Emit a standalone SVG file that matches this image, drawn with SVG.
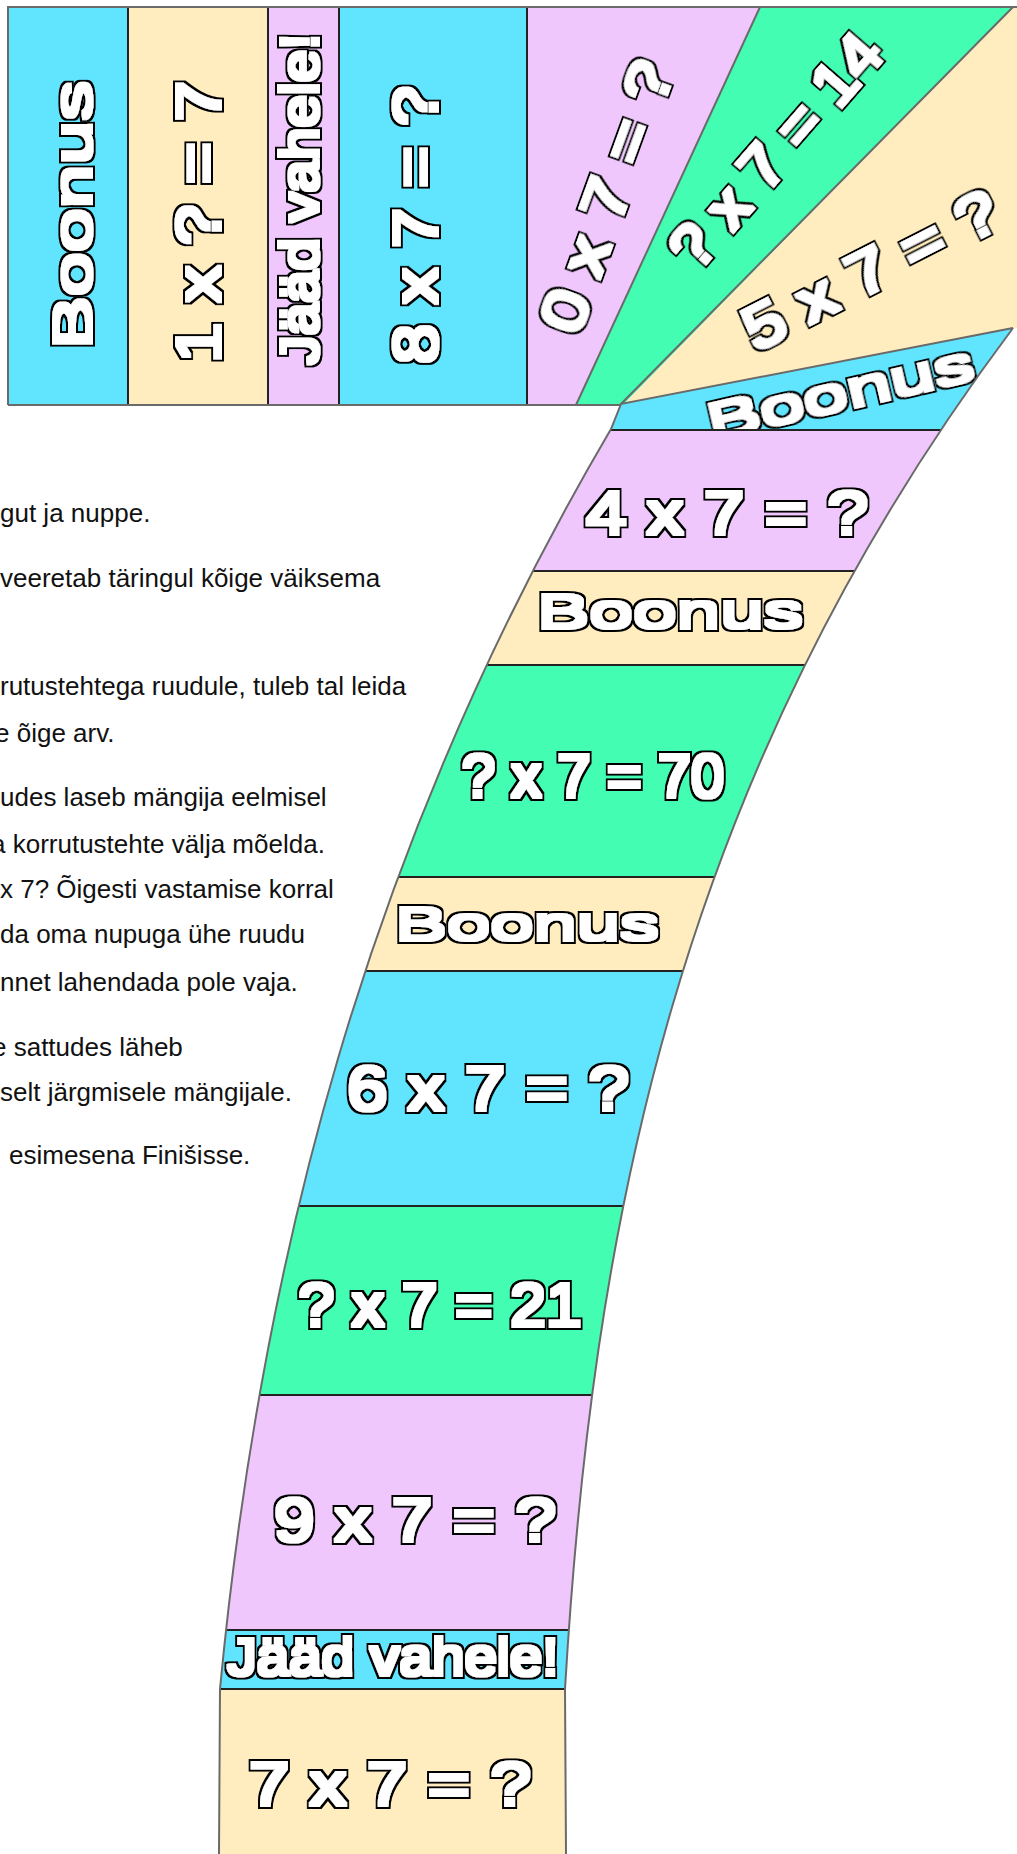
<svg xmlns="http://www.w3.org/2000/svg" width="1017" height="1854" viewBox="0 0 1017 1854">
<style>
.b{fill:#61E5FF}.c{fill:#FFEDBF}.p{fill:#EFC7FC}.g{fill:#42FDB2}
.dv{stroke:#222;stroke-width:2;fill:none}
.ed{stroke:#6a6a6a;stroke-width:2;fill:none}
text.lf{font-family:"Liberation Sans",Arial,sans-serif;fill:#fff;text-anchor:middle;filter:url(#fat)}
text.tx{font-family:"Liberation Sans",Arial,sans-serif;font-size:26px;fill:#111}
</style>
<defs>
<clipPath id="stem"><path d="M621,404 L1013,328 C673,782 592,1235 565,1689 L566,1854 L219,1854 L220,1689 C260,1269 364,849 611,429 Z"/></clipPath>
<filter id="fat" x="-20%" y="-40%" width="140%" height="180%">
<feMorphology in="SourceAlpha" operator="dilate" radius="3.5" result="o"/>
<feMorphology in="SourceGraphic" operator="dilate" radius="1.9" result="i"/>
<feMerge><feMergeNode in="o"/><feMergeNode in="i"/></feMerge>
</filter>
</defs>
<rect width="1017" height="1854" fill="#fff"/>

<g id="rules">
<text class="tx" x="0" y="522">gut ja nuppe.</text>
<text class="tx" x="0" y="587">veeretab täringul kõige väiksema</text>
<text class="tx" x="0" y="695">rutustehtega ruudule, tuleb tal leida</text>
<text class="tx" x="-5" y="742">e õige arv.</text>
<text class="tx" x="0" y="806">udes laseb mängija eelmisel</text>
<text class="tx" x="-9" y="853">a korrutustehte välja mõelda.</text>
<text class="tx" x="0" y="898">x 7? Õigesti vastamise korral</text>
<text class="tx" x="0" y="943">da oma nupuga ühe ruudu</text>
<text class="tx" x="0" y="991">nnet lahendada pole vaja.</text>
<text class="tx" x="-8" y="1056">e sattudes läheb</text>
<text class="tx" x="0" y="1101">selt järgmisele mängijale.</text>
<text class="tx" x="9" y="1164">esimesena Finišisse.</text>
</g>

<g id="top-boonus"><rect class="b" x="8" y="7" width="120" height="398"/>
<text class="lf" font-size="53" textLength="268" lengthAdjust="spacingAndGlyphs" transform="translate(91,215) rotate(-90)">Boonus</text></g>
<g id="top-1x"><rect class="c" x="128" y="7" width="140" height="398"/>
<text class="lf" font-size="63" textLength="282" lengthAdjust="spacingAndGlyphs" transform="translate(220,222) rotate(-90)">1 x ? = 7</text></g>
<g id="top-jaad"><rect class="p" x="268" y="7" width="71" height="398"/>
<text class="lf" font-size="53" textLength="331" lengthAdjust="spacingAndGlyphs" transform="translate(318,199) rotate(-90)">Jääd vahele!</text></g>
<g id="top-8x"><rect class="b" x="339" y="7" width="188" height="398"/>
<text class="lf" font-size="63" textLength="278" lengthAdjust="spacingAndGlyphs" transform="translate(437,225) rotate(-90)">8 x 7 = ?</text></g>
<g id="top-0x"><polygon class="p" points="527,7 760,7 576,405 527,405"/>
<text class="lf" font-size="62" textLength="284" lengthAdjust="spacingAndGlyphs" transform="translate(606,196) rotate(-70)" y="22">0 x 7 = ?</text></g>
<g id="top-14"><polygon class="g" points="760,7 1013,7 623,405 576,405"/>
<text class="lf" font-size="62" textLength="289" lengthAdjust="spacingAndGlyphs" transform="translate(775,150) rotate(-49)" y="22">? x 7 = 14</text></g>
<g id="top-5x"><polygon class="c" points="1013,7 1017,7 1017,328 623,405"/>
<text class="lf" font-size="62" textLength="279" lengthAdjust="spacingAndGlyphs" transform="translate(870,269) rotate(-27)" y="22">5 x 7 = ?</text></g>

<g clip-path="url(#stem)">
<g id="s-boonus1"><rect class="b" x="150" y="300" width="867" height="130"/>
<text class="lf" font-size="50" textLength="272" lengthAdjust="spacingAndGlyphs" transform="translate(840,392) rotate(-13)" y="18">Boonus</text></g>
<g id="s-4x"><rect class="p" x="150" y="430" width="867" height="141"/>
<text class="lf" font-size="62" textLength="282" lengthAdjust="spacingAndGlyphs" x="727" y="534">4 x 7 = ?</text></g>
<g id="s-boonus2"><rect class="c" x="150" y="571" width="867" height="94"/>
<text class="lf" font-size="48" textLength="266" lengthAdjust="spacingAndGlyphs" x="670" y="628">Boonus</text></g>
<g id="s-70"><rect class="g" x="150" y="665" width="867" height="212"/>
<text class="lf" font-size="61" textLength="262" lengthAdjust="spacingAndGlyphs" x="593" y="797">? x 7 = 70</text></g>
<g id="s-boonus3"><rect class="c" x="150" y="877" width="867" height="94"/>
<text class="lf" font-size="47" textLength="264" lengthAdjust="spacingAndGlyphs" x="527" y="940">Boonus</text></g>
<g id="s-6x"><rect class="b" x="150" y="971" width="867" height="235"/>
<text class="lf" font-size="63" textLength="282" lengthAdjust="spacingAndGlyphs" x="488" y="1110">6 x 7 = ?</text></g>
<g id="s-21"><rect class="g" x="150" y="1206" width="867" height="189"/>
<text class="lf" font-size="62" textLength="283" lengthAdjust="spacingAndGlyphs" x="440" y="1326">? x 7 = 21</text></g>
<g id="s-9x"><rect class="p" x="150" y="1395" width="867" height="235"/>
<text class="lf" font-size="62" textLength="282" lengthAdjust="spacingAndGlyphs" x="415" y="1541">9 x 7 = ?</text></g>
<g id="s-jaad"><rect class="b" x="150" y="1630" width="867" height="59"/>
<text class="lf" font-size="51" textLength="331" lengthAdjust="spacingAndGlyphs" x="393" y="1675">Jääd vahele!</text></g>
<g id="s-7x"><rect class="c" x="150" y="1689" width="867" height="165"/>
<text class="lf" font-size="61" textLength="282" lengthAdjust="spacingAndGlyphs" x="390" y="1805">7 x 7 = ?</text></g>
</g>

<g id="connectors">
<g class="dv">
<line x1="128" y1="7" x2="128" y2="405"/>
<line x1="268" y1="7" x2="268" y2="405"/>
<line x1="339" y1="7" x2="339" y2="405"/>
<line x1="527" y1="7" x2="527" y2="405"/>
<g clip-path="url(#stem)">
<line x1="150" y1="430" x2="1017" y2="430"/>
<line x1="150" y1="571" x2="1017" y2="571"/>
<line x1="150" y1="665" x2="1017" y2="665"/>
<line x1="150" y1="877" x2="1017" y2="877"/>
<line x1="150" y1="971" x2="1017" y2="971"/>
<line x1="150" y1="1206" x2="1017" y2="1206"/>
<line x1="150" y1="1395" x2="1017" y2="1395"/>
<line x1="150" y1="1630" x2="1017" y2="1630"/>
<line x1="150" y1="1689" x2="1017" y2="1689"/>
</g>
</g>
<g class="ed">
<path d="M8,405 L8,7 L1017,7"/>
<path d="M8,405 L621,405"/>
<path d="M760,7 L576,405"/>
<path d="M1013,7 L621,404 L1013,328"/>
<path d="M1013,328 C673,782 592,1235 565,1689 L566,1854"/>
<path d="M621,404 L611,429 C364,849 260,1269 220,1689 L219,1854"/>
</g>
</g>
</svg>
